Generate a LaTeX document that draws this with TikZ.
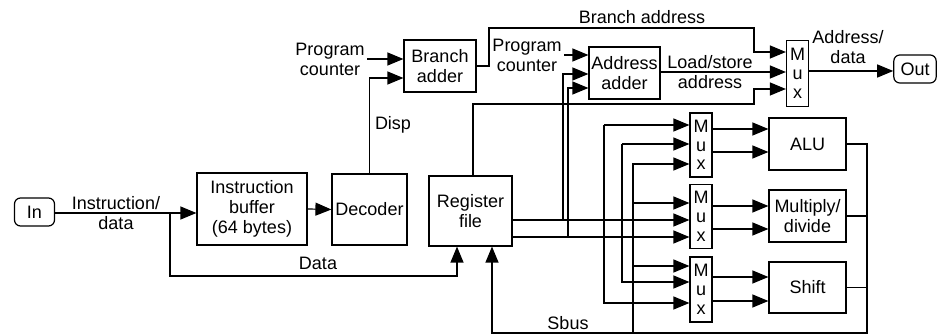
\documentclass[tikz,border=0pt]{standalone}
\usepackage{fontspec}
\setmainfont{Liberation Sans}
\usetikzlibrary{arrows.meta}
\tikzset{
  block/.style={draw, align=center, inner sep=1pt},
  muxbox/.style={draw, align=center, inner sep=0pt, minimum width=11pt, font=\fontsize{9}{9.4}\selectfont},
  term/.style={draw, rounded corners=3pt, minimum width=20pt, minimum height=14pt},
  arr/.style={-{Triangle[length=8pt,width=6.5pt]}},
  lbl/.style={align=center, inner sep=1pt}
}
\begin{document}
\begin{tikzpicture}[x=0.5pt,y=-0.5pt,line width=0.6pt,font=\fontsize{9}{10}\selectfont]
            \useasboundingbox (0,0) rectangle (937,335);

            \coordinate (DataSplit) at (170,213);
            \coordinate (BusATop) at (604,125);
            \coordinate (BusABot) at (604,303);
            \coordinate (BusBTop) at (622,144);
            \coordinate (BusBBot) at (622,282);
            \coordinate (BusCTop) at (633,164);
            \coordinate (SbusEnd) at (633,333);

            \node[term] (in) at (34.5,212) {In};
            \node[block,minimum width=55pt,minimum height=36pt] (ibuf) at (252,209) {Instruction\\buffer\\(64 bytes)};
            \node[block,minimum width=37.5pt,minimum height=35.5pt] (dec) at (369.5,209.5) {Decoder};
            \node[block,minimum width=36pt,minimum height=26pt] (badd) at (440,66) {Branch\\adder};
            \node[block,minimum width=35.5pt,minimum height=26pt] (aadd) at (624.5,73) {Address\\adder};
            \node[block,minimum width=41.5pt,minimum height=35pt] (reg) at (470.5,211) {Register\\file};
            \node[muxbox,minimum height=33pt] (omux) at (797.5,73.5) {M\\u\\x};
            \node[term] (out) at (915,69) {Out};
            \node[muxbox,minimum height=32pt] (mux1) at (701,145) {M\\u\\x};
            \node[muxbox,minimum height=32pt] (mux2) at (701,216.5) {M\\u\\x};
            \node[muxbox,minimum height=32.5pt] (mux3) at (701,289.5) {M\\u\\x};
            \node[block,minimum width=38.5pt,minimum height=26pt] (alu) at (807.5,144) {ALU};
            \node[block,minimum width=38.5pt,minimum height=26pt] (mdiv) at (807.5,216) {Multiply/\\divide};
            \node[block,minimum width=38.5pt,minimum height=25.5pt] (shift) at (807.5,287.5) {Shift};

            \node[lbl] (instlbl) at (116,213) {Instruction/\\data};
            \node[lbl] (pcone) at (330,59) {Program\\counter};
            \node[lbl] (pctwo) at (527,55) {Program\\counter};
            \node[lbl] (disp) at (393,125) {Disp};
            \node[lbl] (bralbl) at (642,17) {Branch address};
            \node[lbl] (lslbl) at (710,72) {Load/store\\address};
            \node[lbl] (adlbl) at (848,47) {Address/\\data};
            \node[lbl] (datalbl) at (318,263) {Data};
            \node[lbl] (sbuslbl) at (568,323) {Sbus};

            \draw[arr] (in.east |- DataSplit) -- (ibuf.west |- DataSplit);
            \draw[arr] (DataSplit) |- (457,276) -- (reg.south -| 457,0);
            \draw[arr] (ibuf.east) -- (dec.west);
            \draw[arr] (dec.north) |- (badd.west |- 0,78);
            \draw[arr] (pcone.east |- 0,59) -- (badd.west |- 0,59);
            \draw[arr] (badd.east) -- (489,66) |- (754,28) |- (omux.west |- 0,52);
            \draw[arr] (pctwo.east |- 0,55) -- (aadd.west |- 0,55);
            \draw[arr] (aadd.east |- 0,72) -- (omux.west |- 0,72);
            \draw[arr] (reg.north -| 473,0) |- (754,104) |- (omux.west |- 0,89);
            \draw[arr] (omux.east |- 0,71) -- (out.west |- 0,71);

            \draw[arr] (reg.east |- 0,220) -- (mux2.west |- 0,220);
            \draw[arr] (reg.east |- 0,237) -- (mux2.west |- 0,237);
            \draw[arr] (563,220) |- (aadd.west |- 0,74);
            \draw[arr] (568,237) |- (aadd.west |- 0,88);

            \draw[arr] (BusATop) -- (mux1.west |- BusATop);
            \draw[arr] (BusATop) -- (BusABot) -- (mux3.west |- BusABot);
            \draw[arr] (BusBTop) -- (mux1.west |- BusBTop);
            \draw[arr] (BusBTop) -- (BusBBot) -- (mux3.west |- BusBBot);
            \draw[arr] (SbusEnd) -- (BusCTop) -- (mux1.west |- BusCTop);
            \draw[arr] (633,203) -- (mux2.west |- 0,203);
            \draw[arr] (633,266) -- (mux3.west |- 0,266);

            \draw[arr] (mux1.east |- 0,129) -- (alu.west |- 0,129);
            \draw[arr] (mux1.east |- 0,152) -- (alu.west |- 0,152);
            \draw[arr] (mux2.east |- 0,206) -- (mdiv.west |- 0,206);
            \draw[arr] (mux2.east |- 0,229) -- (mdiv.west |- 0,229);
            \draw[arr] (mux3.east |- 0,277) -- (shift.west |- 0,277);
            \draw[arr] (mux3.east |- 0,301) -- (shift.west |- 0,301);

            \draw[arr] (alu.east) -| (867,333) -| (reg.south -| 492,0);
            \draw (mdiv.east) -- (mdiv.east -| 867,0);
            \draw (shift.east) -- (shift.east -| 867,0);
        \end{tikzpicture}
\end{document}
